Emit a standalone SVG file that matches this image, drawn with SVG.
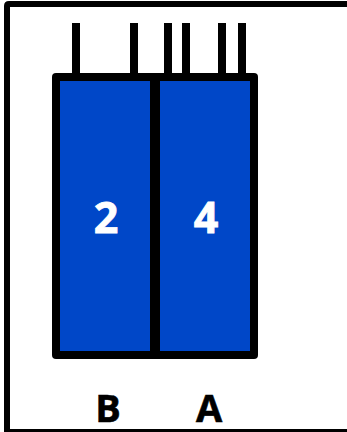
<svg xmlns="http://www.w3.org/2000/svg" width="347" height="432" viewBox="0 0 347 432">
<style>
.pin{fill:#000}
.cell{fill:#0047c8}
text{font-family:"Open Sans","Liberation Sans",sans-serif;font-weight:700;text-anchor:middle}
.num{fill:#fff;stroke:#fff;stroke-width:.8px;font-size:43px}
.lab{fill:#000;stroke:#000;stroke-width:.6px;font-size:38px}
</style>
<rect width="347" height="432" fill="#fff"/>
<path d="M7 432V6Q7 4 9 4H347" fill="none" stroke="#000" stroke-width="6"/>
<rect x="4" y="429" width="343" height="3" fill="#000"/>
<g id="connectors">
<rect class="pin" x="72" y="23" width="8" height="52"/>
<rect class="pin" x="130" y="23" width="8" height="52"/>
<rect class="pin" x="164" y="23" width="8" height="52"/>
<rect class="pin" x="182" y="23" width="8" height="52"/>
<rect class="pin" x="218" y="23" width="8" height="52"/>
<rect class="pin" x="238" y="23" width="8" height="52"/>
</g>
<g id="body"><rect x="52" y="73" width="206" height="286" rx="4" fill="#000"/></g>
<g id="node-b"><rect class="cell" x="60" y="81" width="90" height="270"/><text class="num" x="106" y="233">2</text><text class="lab" x="108" y="422">B</text></g>
<g id="node-a"><rect class="cell" x="160" y="81" width="90" height="270"/><text class="num" x="206" y="233">4</text><text class="lab" x="209" y="422">A</text></g>
</svg>
